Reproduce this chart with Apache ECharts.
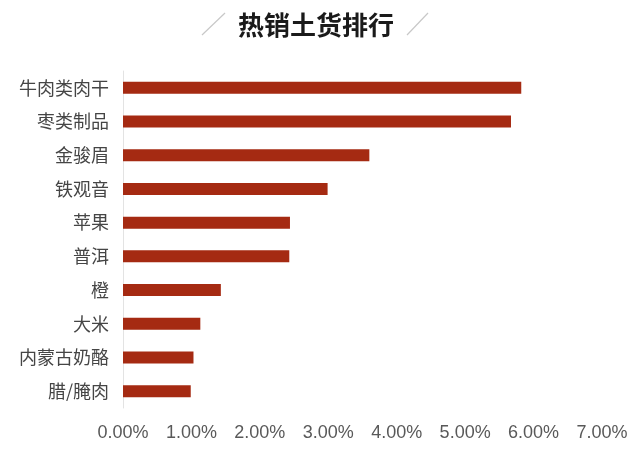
<!DOCTYPE html>
<html>
<head>
<meta charset="utf-8">
<script src="https://cdn.jsdelivr.net/npm/echarts@6/dist/echarts.min.js"></script>
<style>
  html, body { margin: 0; padding: 0; background: #fff; }
  #chart { width: 642px; height: 464px; }
</style>
</head>
<body>
<div id="chart"></div>
<script>
// categories from top to bottom, values in percent
const categories = ['牛肉类肉干', '枣类制品', '金骏眉', '铁观音', '苹果', '普洱', '橙', '大米', '内蒙古奶酪', '腊/腌肉'];
const shares = [5.82, 5.67, 3.60, 2.99, 2.44, 2.43, 1.43, 1.13, 1.03, 0.99];
const titleText = '热销土货排行';

const font = '"Noto Sans CJK SC", "Liberation Sans", Arial, sans-serif';

const chart = echarts.init(document.getElementById('chart'));
chart.setOption({
    backgroundColor: '#ffffff',
    animation: false,
    title: {
        text: titleText,
        left: 233,
        top: 7,
        textStyle: {
            fontFamily: font,
            fontSize: 26,
            fontWeight: 'bold',
            color: '#1a1a1a'
        }
    },
    graphic: [
        {
            type: 'line',
            shape: {x1: 202, y1: 35, x2: 225, y2: 13},
            style: {stroke: '#c8c8c8', lineWidth: 1.2}
        },
        {
            type: 'line',
            shape: {x1: 407, y1: 35, x2: 428, y2: 13},
            style: {stroke: '#c8c8c8', lineWidth: 1.2}
        }
    ],
    grid: {
        left: 123,
        right: 40,
        top: 71,
        bottom: 56,
        containLabel: false
    },
    xAxis: {
        type: 'value',
        min: 0,
        max: 7,
        interval: 1,
        axisLine: {show: false},
        axisTick: {show: false},
        splitLine: {show: false},
        axisLabel: {
            margin: 16,
            fontFamily: '"Liberation Sans", Arial, sans-serif',
            fontSize: 18,
            color: '#595959',
            formatter: function (v) {
                return v.toFixed(2) + '%';
            }
        }
    },
    yAxis: {
        type: 'category',
        data: categories,
        inverse: true,
        axisLine: {show: true, lineStyle: {color: '#e3e3e3', width: 1}},
        axisTick: {show: false},
        axisLabel: {
            margin: 14,
            fontFamily: font,
            fontSize: 18,
            color: '#454545'
        }
    },
    series: [
        {
            type: 'bar',
            data: shares,
            barWidth: 12,
            itemStyle: {color: '#a52a12'}
        }
    ]
});
</script>
</body>
</html>
